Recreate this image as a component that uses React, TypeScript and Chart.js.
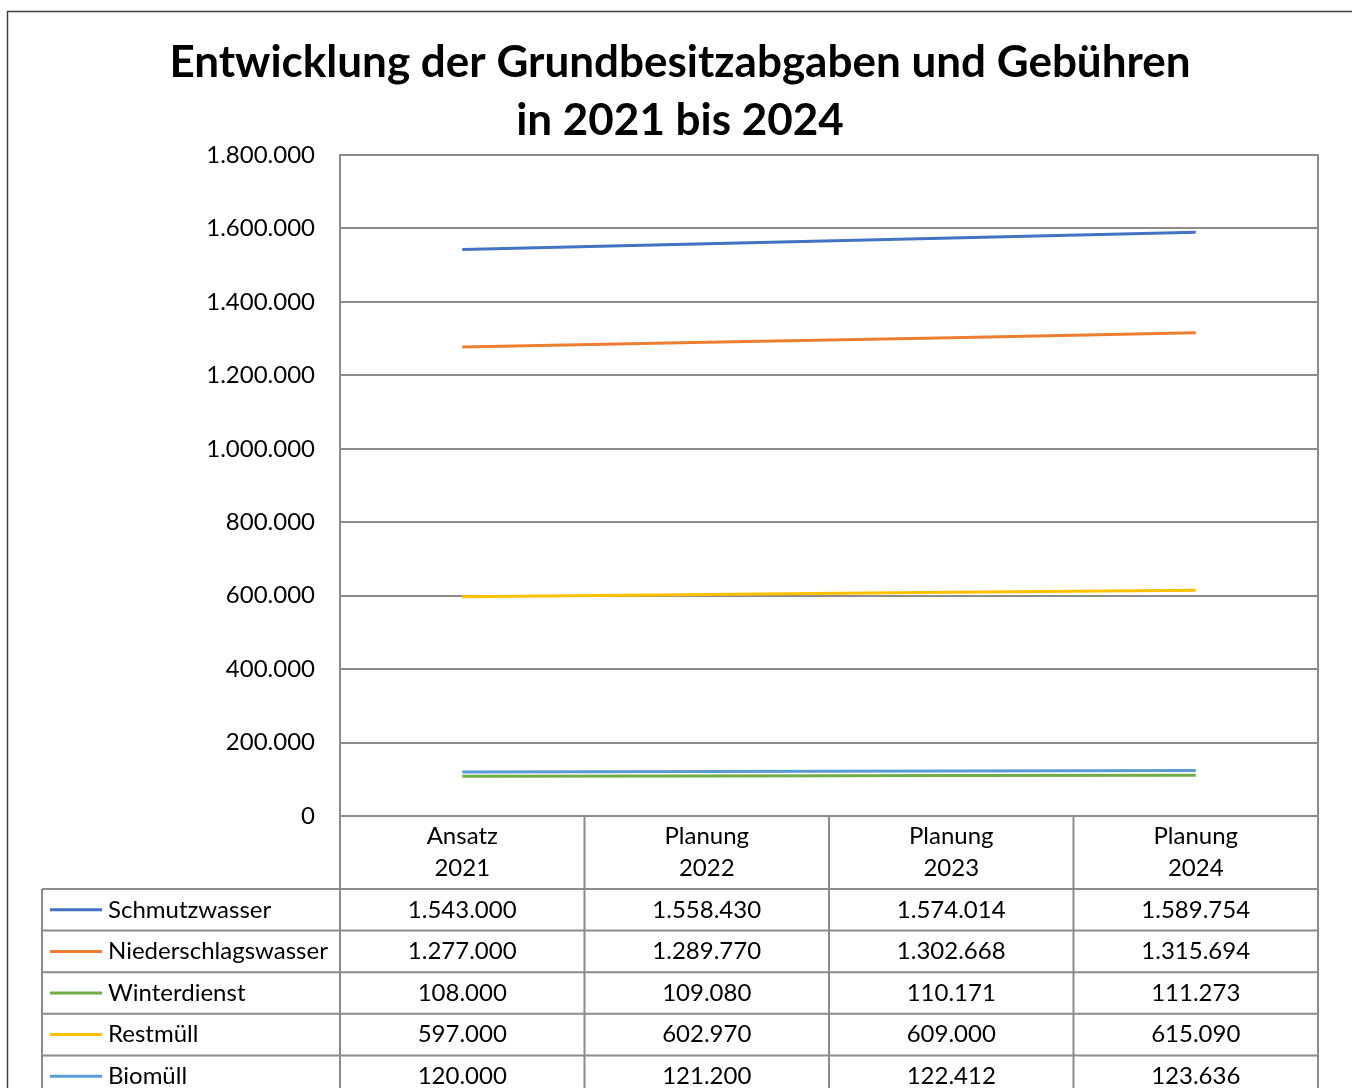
import React, { useEffect, useRef } from "react";
import { Chart, registerables } from "chart.js";

Chart.register(...registerables);

const TITLE_LINES = ["Entwicklung der Grundbesitzabgaben und Gebühren", "in 2021 bis 2024"];
const CATEGORIES = [
  ["Ansatz", "2021"],
  ["Planung", "2022"],
  ["Planung", "2023"],
  ["Planung", "2024"],
];
const SERIES_NAMES = ["Schmutzwasser", "Niederschlagswasser", "Winterdienst", "Restmüll", "Biomüll"];
const SCHMUTZWASSER = [1543000, 1558430, 1574014, 1589754];
const NIEDERSCHLAGSWASSER = [1277000, 1289770, 1302668, 1315694];
const WINTERDIENST = [108000, 109080, 110171, 111273];
const RESTMUELL = [597000, 602970, 609000, 615090];
const BIOMUELL = [120000, 121200, 122412, 123636];
const SERIES_COLORS = ["#4472C4", "#ED7D31", "#70AD47", "#FFC000", "#5B9BD5"];
const Y_MIN = 0;
const Y_MAX = 1800000;
const Y_STEP = 200000;

const FONT = "Lato, 'Open Sans', sans-serif";
const GRID = "#8c8c8c";
const W = 1352;
const H = 1088;
const TEXT_SIZE = 24;

function fmt(v: number): string {
  return Math.round(v)
    .toString()
    .replace(/\B(?=(\d{3})+(?!\d))/g, ".");
}

const framePlugin = {
  id: "frame",
  beforeDraw(chart: any) {
    const ctx = chart.ctx;
    ctx.save();
    ctx.fillStyle = "#ffffff";
    ctx.fillRect(0, 0, chart.width, chart.height);
    ctx.restore();
  },
  afterDraw(chart: any) {
    const ctx = chart.ctx;
    const { left, right, top, bottom } = chart.chartArea;
    ctx.save();
    // outer frame
    ctx.strokeStyle = "#404040";
    ctx.lineWidth = 1.5;
    ctx.beginPath();
    ctx.moveTo(7.5, chart.height);
    ctx.lineTo(7.5, 11.5);
    ctx.lineTo(chart.width, 11.5);
    ctx.stroke();

    // title
    ctx.fillStyle = "#000";
    ctx.font = `bold 44px ${FONT}`;
    ctx.textAlign = "center";
    ctx.textBaseline = "middle";
    ctx.fillText(TITLE_LINES[0], 680, 63);
    ctx.fillText(TITLE_LINES[1], 680, 121);

    // plot border
    ctx.strokeStyle = GRID;
    ctx.lineWidth = 2;
    ctx.strokeRect(left, top, right - left, bottom - top);

    // data table
    const datasets = chart.data.datasets;
    const n = chart.data.labels.length;
    const colW = (right - left) / n;
    const headerBottom = 889;
    const rowH = 41.6;
    const tableLeft = 42;
    const tableBottom = headerBottom + rowH * datasets.length;

    ctx.beginPath();
    for (let i = 0; i <= n; i++) {
      const x = left + i * colW;
      ctx.moveTo(x, bottom);
      ctx.lineTo(x, tableBottom);
    }
    ctx.moveTo(tableLeft, headerBottom);
    ctx.lineTo(tableLeft, tableBottom);
    for (let k = 0; k <= datasets.length; k++) {
      const y = headerBottom + k * rowH;
      ctx.moveTo(tableLeft, y);
      ctx.lineTo(right, y);
    }
    ctx.stroke();

    const xs = chart.scales.x;
    ctx.font = `${TEXT_SIZE}px ${FONT}`;
    ctx.textBaseline = "middle";
    datasets.forEach((ds: any, r: number) => {
      const cy = headerBottom + rowH * (r + 0.5);
      ctx.strokeStyle = ds.borderColor;
      ctx.lineWidth = 3;
      ctx.beginPath();
      ctx.moveTo(50, cy);
      ctx.lineTo(102, cy);
      ctx.stroke();
      ctx.fillStyle = "#000";
      ctx.textAlign = "left";
      ctx.fillText(ds.label, 108, cy);
      ctx.textAlign = "center";
      ds.data.forEach((v: number, i: number) => {
        ctx.fillText(fmt(v), xs.getPixelForValue(i), cy);
      });
    });
    ctx.restore();
  },
};

export default function App() {
  const ref = useRef<HTMLCanvasElement | null>(null);
  useEffect(() => {
    if (!ref.current) return;
    const seriesData = [SCHMUTZWASSER, NIEDERSCHLAGSWASSER, WINTERDIENST, RESTMUELL, BIOMUELL];
    const chart = new Chart(ref.current, {
      type: "line",
      data: {
        labels: CATEGORIES,
        datasets: SERIES_NAMES.map((name, i) => ({
          label: name,
          data: seriesData[i],
          borderColor: SERIES_COLORS[i],
          backgroundColor: SERIES_COLORS[i],
          borderWidth: 3,
          pointRadius: 0,
          tension: 0,
          fill: false,
        })),
      },
      options: {
        responsive: false,
        animation: false,
        layout: { padding: { top: 155, right: 34, left: 0, bottom: 0 } },
        plugins: {
          legend: { display: false },
          title: { display: false },
          tooltip: { enabled: false },
        },
        scales: {
          x: {
            offset: true,
            grid: { display: false, drawTicks: false },
            border: { display: false },
            ticks: {
              color: "#000",
              font: { family: FONT, size: TEXT_SIZE, lineHeight: 1.33 },
              padding: 4,
              maxRotation: 0,
              autoSkip: false,
            },
            afterFit: (scale: any) => {
              scale.height = 272;
            },
          },
          y: {
            min: Y_MIN,
            max: Y_MAX,
            grid: { color: GRID, lineWidth: 2, drawTicks: false },
            border: { display: true, color: GRID, width: 2 },
            ticks: {
              stepSize: Y_STEP,
              color: "#000",
              padding: 25,
              font: { family: FONT, size: TEXT_SIZE },
              callback: (v: any) => fmt(Number(v)),
            },
            afterFit: (scale: any) => {
              scale.width = 340;
            },
          },
        },
      },
      plugins: [framePlugin],
    });
    return () => chart.destroy();
  }, []);
  return (
    <div style={{ position: "fixed", left: 0, top: 0, width: W, height: H, background: "#fff" }}>
      <canvas ref={ref} width={W} height={H} style={{ width: W, height: H, display: "block" }} />
    </div>
  );
}
